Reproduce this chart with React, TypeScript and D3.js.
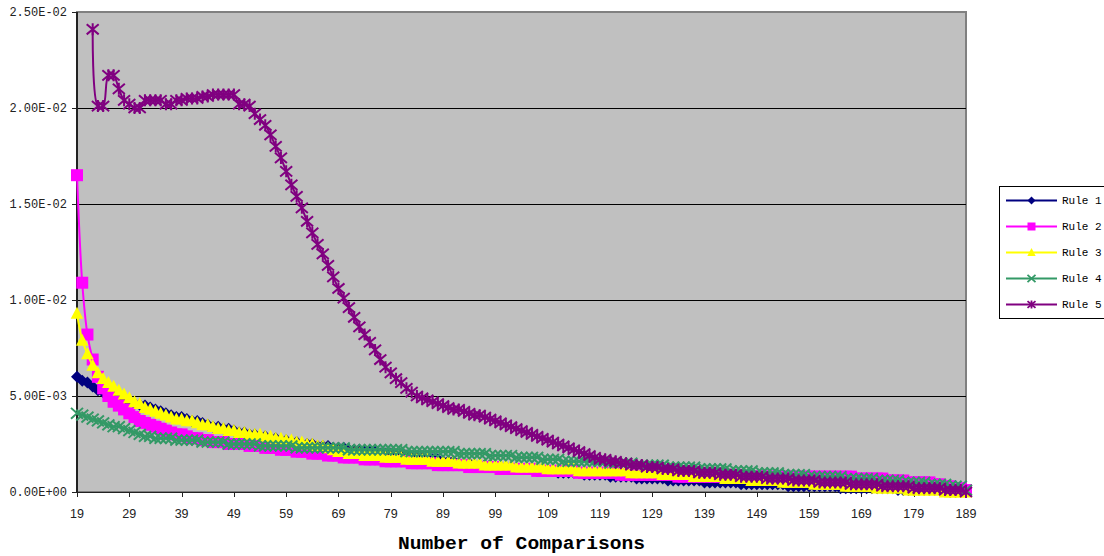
import * as d3 from "d3";
import React from "react";

// x categories (number of comparisons)
const categories = d3.range(19, 190);
const xTickLabels = [19, 29, 39, 49, 59, 69, 79, 89, 99, 109, 119, 129, 139, 149, 159, 169, 179, 189];
const yTicks = [0, 0.005, 0.01, 0.015, 0.02, 0.025];
const yTickLabels = ["0.00E+00", "5.00E-03", "1.00E-02", "1.50E-02", "2.00E-02", "2.50E-02"];

const rule1 = [
    0.0060, 0.0058, 0.0057, 0.0055, 0.0053, 0.0052, 0.0051, 0.0050, 0.0049, 0.0048,
    0.0047, 0.0046, 0.00455, 0.0045, 0.0044, 0.0043, 0.0042, 0.0041, 0.0040, 0.0039,
    0.0039, 0.0038, 0.0037, 0.0037, 0.0036, 0.0035, 0.0034, 0.0034, 0.0033, 0.0033,
    0.0032, 0.0031, 0.0031, 0.0030, 0.0030, 0.0029, 0.0029, 0.0028, 0.0028, 0.0027,
    0.0027, 0.0026, 0.0026, 0.0025, 0.0025, 0.0025, 0.0024, 0.0024, 0.0024, 0.0023,
    0.0023, 0.0023, 0.0022, 0.0022, 0.0022, 0.0021, 0.0021, 0.0021, 0.0020, 0.0020,
    0.0020, 0.0019, 0.0019, 0.0019, 0.0018, 0.0018, 0.0018, 0.0017, 0.0017, 0.0017,
    0.0016, 0.0016, 0.0016, 0.0015, 0.0015, 0.0015, 0.0014, 0.0014, 0.0014, 0.0014,
    0.0013, 0.0013, 0.0013, 0.0013, 0.0012, 0.0012, 0.0012, 0.0012, 0.0011, 0.0011,
    0.0011, 0.0011, 0.0010, 0.0010, 0.0010, 0.0010, 0.0010, 0.0009, 0.0009, 0.0009,
    0.0009, 0.0009, 0.0008, 0.0008, 0.0008, 0.0008, 0.0008, 0.0007, 0.0007, 0.0007,
    0.0007, 0.0007, 0.0007, 0.0006, 0.0006, 0.0006, 0.0006, 0.0006, 0.0006, 0.0006,
    0.0005, 0.0005, 0.0005, 0.0005, 0.0005, 0.0005, 0.0005, 0.0004, 0.0004, 0.0004,
    0.0004, 0.0004, 0.0004, 0.0004, 0.0004, 0.0004, 0.0003, 0.0003, 0.0003, 0.0003,
    0.0003, 0.0003, 0.0003, 0.0003, 0.0003, 0.0003, 0.0002, 0.0002, 0.0002, 0.0002,
    0.0002, 0.0002, 0.0002, 0.0002, 0.0002, 0.0002, 0.0002, 0.0001, 0.0001, 0.0001,
    0.0001, 0.0001, 0.0001, 0.0001, 0.0001, 0.0001, 0.0001, 0.0000, 0.0000, 0.0000,
    0.0000,
];

const rule2 = [
    0.0165, 0.0109, 0.0082, 0.0069, 0.0060, 0.0054, 0.0050, 0.0047, 0.0045, 0.0043,
    0.0041, 0.0039, 0.0037, 0.0036, 0.0035, 0.0034, 0.0033, 0.0032, 0.0031, 0.0030,
    0.0030, 0.0029, 0.0028, 0.0028, 0.0027, 0.0027, 0.0026, 0.0026, 0.0026, 0.0025,
    0.0025, 0.0025, 0.0025, 0.0024, 0.0024, 0.0024, 0.0023, 0.0023, 0.0023, 0.0022,
    0.0022, 0.0022, 0.0021, 0.0021, 0.0021, 0.0020, 0.0020, 0.0020, 0.0019, 0.0019,
    0.0019, 0.0018, 0.0018, 0.0018, 0.0018, 0.0017, 0.0017, 0.0017, 0.0017, 0.0016,
    0.0016, 0.0016, 0.0016, 0.0016, 0.0015, 0.0015, 0.0015, 0.0015, 0.0015, 0.0014,
    0.0014, 0.0014, 0.0014, 0.0014, 0.0014, 0.0013, 0.0013, 0.0013, 0.0013, 0.0013,
    0.0013, 0.0012, 0.0012, 0.0012, 0.0012, 0.0012, 0.0012, 0.0012, 0.0011, 0.0011,
    0.0011, 0.0011, 0.0011, 0.0011, 0.0011, 0.0011, 0.0010, 0.0010, 0.0010, 0.0010,
    0.0010, 0.0010, 0.0010, 0.0010, 0.0009, 0.0009, 0.0009, 0.0009, 0.0009, 0.0009,
    0.0009, 0.0009, 0.0009, 0.0009, 0.0009, 0.0008, 0.0008, 0.0008, 0.0008, 0.0008,
    0.0008, 0.0008, 0.0008, 0.0008, 0.0008, 0.0008, 0.0008, 0.0008, 0.0008, 0.0008,
    0.0008, 0.0008, 0.0008, 0.0008, 0.0008, 0.0008, 0.0008, 0.0008, 0.0008, 0.0008,
    0.0008, 0.0008, 0.0008, 0.0008, 0.0008, 0.0008, 0.0008, 0.0008, 0.0008, 0.0007,
    0.0007, 0.0007, 0.0007, 0.0007, 0.0007, 0.0006, 0.0006, 0.0006, 0.0006, 0.0005,
    0.0005, 0.0005, 0.0005, 0.0005, 0.0004, 0.0004, 0.0003, 0.0003, 0.0002, 0.0002,
    0.0001,
];

const rule3 = [
    0.0093, 0.0079, 0.0072, 0.0066, 0.0062, 0.0059, 0.0057, 0.0055, 0.0053, 0.0051,
    0.0049, 0.0047, 0.0046, 0.0044, 0.0043, 0.0042, 0.0041, 0.0040, 0.0039, 0.0038,
    0.0038, 0.0037, 0.0037, 0.0036, 0.0035, 0.0035, 0.0034, 0.0033, 0.0033, 0.0032,
    0.0032, 0.0031, 0.0031, 0.0030, 0.0030, 0.0030, 0.0029, 0.0029, 0.0028, 0.0028,
    0.0027, 0.0027, 0.0026, 0.0026, 0.0025, 0.0025, 0.0024, 0.0024, 0.0023, 0.0022,
    0.0021, 0.0021, 0.0020, 0.0020, 0.0020, 0.0019, 0.0019, 0.0019, 0.0019, 0.0018,
    0.0018, 0.0018, 0.0018, 0.0017, 0.0017, 0.0017, 0.0017, 0.0017, 0.0016, 0.0016,
    0.0016, 0.0016, 0.0016, 0.0015, 0.0015, 0.0015, 0.0015, 0.0015, 0.0014, 0.0014,
    0.0014, 0.0014, 0.0014, 0.0014, 0.0013, 0.0013, 0.0013, 0.0013, 0.0013, 0.0013,
    0.0012, 0.0012, 0.0012, 0.0012, 0.0012, 0.0012, 0.0011, 0.0011, 0.0011, 0.0011,
    0.0011, 0.0011, 0.0011, 0.0011, 0.0011, 0.0011, 0.0010, 0.0010, 0.0010, 0.0010,
    0.0010, 0.0010, 0.0009, 0.0009, 0.0009, 0.0009, 0.0009, 0.0009, 0.0008, 0.0008,
    0.0008, 0.0008, 0.0008, 0.0008, 0.0007, 0.0007, 0.0007, 0.0007, 0.0007, 0.0006,
    0.0006, 0.0006, 0.0006, 0.0006, 0.0006, 0.0005, 0.0005, 0.0005, 0.0005, 0.0005,
    0.0005, 0.0004, 0.0004, 0.0004, 0.0004, 0.0004, 0.0004, 0.0003, 0.0003, 0.0003,
    0.0003, 0.0003, 0.0003, 0.0002, 0.0002, 0.0002, 0.0002, 0.0002, 0.0002, 0.0001,
    0.0001, 0.0001, 0.0001, 0.0001, 0.0001, 0.0001, 0.0000, 0.0000, 0.0000, 0.0000,
    0.0000,
];

const rule4 = [
    0.0041, 0.0040, 0.0039, 0.0038, 0.0037, 0.0036, 0.0035, 0.0034, 0.0034, 0.0033,
    0.0032, 0.0031, 0.0030, 0.0029, 0.0029, 0.0028, 0.0028, 0.0028, 0.0028, 0.0027,
    0.0027, 0.0027, 0.0027, 0.0027, 0.0026, 0.0026, 0.0026, 0.0026, 0.0026, 0.0025,
    0.0025, 0.0025, 0.0025, 0.0025, 0.0025, 0.0024, 0.0024, 0.0024, 0.0024, 0.0024,
    0.0024, 0.0024, 0.0023, 0.0023, 0.0023, 0.0023, 0.0023, 0.0023, 0.0023, 0.0023,
    0.0023, 0.0023, 0.0022, 0.0022, 0.0022, 0.0022, 0.0022, 0.0022, 0.0022, 0.0022,
    0.0022, 0.0022, 0.0022, 0.0021, 0.0021, 0.0021, 0.0021, 0.0021, 0.0021, 0.0021,
    0.0021, 0.0021, 0.0021, 0.0020, 0.0020, 0.0020, 0.0020, 0.0020, 0.0020, 0.0019,
    0.0019, 0.0019, 0.0019, 0.0019, 0.0018, 0.0018, 0.0018, 0.0018, 0.0018, 0.0017,
    0.0017, 0.0017, 0.0017, 0.0016, 0.0016, 0.0016, 0.0016, 0.0016, 0.0016, 0.0016,
    0.0016, 0.0016, 0.0015, 0.0015, 0.0015, 0.0015, 0.0015, 0.0014, 0.0014, 0.0014,
    0.0014, 0.0014, 0.0014, 0.0013, 0.0013, 0.0013, 0.0013, 0.0013, 0.0013, 0.0012,
    0.0012, 0.0012, 0.0012, 0.0012, 0.0012, 0.0011, 0.0011, 0.0011, 0.0011, 0.0011,
    0.0010, 0.0010, 0.0010, 0.0010, 0.0010, 0.0009, 0.0009, 0.0009, 0.0009, 0.0009,
    0.0008, 0.0008, 0.0008, 0.0008, 0.0008, 0.0008, 0.0008, 0.0007, 0.0007, 0.0007,
    0.0007, 0.0007, 0.0007, 0.0006, 0.0006, 0.0006, 0.0006, 0.0006, 0.0005, 0.0005,
    0.0005, 0.0005, 0.0005, 0.0004, 0.0004, 0.0004, 0.0004, 0.0003, 0.0003, 0.0003,
    0.0001,
];

const rule5 = [
    null, null, null, 0.0241, 0.0201, 0.0201, 0.0217, 0.0217, 0.0210, 0.0204,
    0.0202, 0.0200, 0.0200, 0.0204, 0.0204, 0.0204, 0.0204, 0.0202, 0.0202, 0.0204,
    0.0204, 0.0205, 0.0205, 0.0205, 0.0206, 0.0206, 0.0207, 0.0207, 0.0207, 0.0207,
    0.0207, 0.0202, 0.0202, 0.0201, 0.0197, 0.0194, 0.0191, 0.0186, 0.0180, 0.0174,
    0.0167, 0.0160, 0.0154, 0.0148, 0.0141, 0.0135, 0.0129, 0.0124, 0.0118, 0.0112,
    0.0106, 0.0101, 0.0096, 0.0091, 0.0086, 0.0082, 0.0078, 0.0074, 0.0069, 0.0065,
    0.0062, 0.0059, 0.0057, 0.0054, 0.0052, 0.0050, 0.0049, 0.0048, 0.0047, 0.0046,
    0.0045, 0.0044, 0.0043, 0.0043, 0.0042, 0.0041, 0.0040, 0.0040, 0.0039, 0.0038,
    0.0037, 0.0036, 0.0035, 0.0034, 0.0033, 0.0032, 0.0031, 0.0030, 0.0029, 0.0028,
    0.0027, 0.0026, 0.0025, 0.0024, 0.0023, 0.0022, 0.0021, 0.0020, 0.0019, 0.0018,
    0.0017, 0.0017, 0.0016, 0.0016, 0.0015, 0.0015, 0.0014, 0.0014, 0.0014, 0.0013,
    0.0013, 0.0013, 0.0012, 0.0012, 0.0012, 0.0011, 0.0011, 0.0011, 0.0011, 0.0010,
    0.0010, 0.0010, 0.0010, 0.0009, 0.0009, 0.0009, 0.0009, 0.0008, 0.0008, 0.0008,
    0.0008, 0.0008, 0.0007, 0.0007, 0.0007, 0.0007, 0.0007, 0.0006, 0.0006, 0.0006,
    0.0006, 0.0006, 0.0005, 0.0005, 0.0005, 0.0005, 0.0005, 0.0005, 0.0004, 0.0004,
    0.0004, 0.0004, 0.0004, 0.0004, 0.0003, 0.0003, 0.0003, 0.0003, 0.0003, 0.0003,
    0.0002, 0.0002, 0.0002, 0.0002, 0.0002, 0.0002, 0.0001, 0.0001, 0.0001, 0.0001,
    0.0000,
];

const seriesNames = ["Rule 1", "Rule 2", "Rule 3", "Rule 4", "Rule 5"];
const seriesValues = [rule1, rule2, rule3, rule4, rule5];
const seriesColors = ["#000080", "#FF00FF", "#FFFF00", "#339966", "#800080"];
const seriesMarkers = ["diamond", "square", "triangle", "x", "star"];

const width = 1104;
const height = 556;
const plot = { left: 77, right: 966, top: 12, bottom: 492 };

function Marker({ kind, color, cx, cy, s, sw = 2 }) {
    if (kind === "diamond") {
        return <path d={`M${cx},${cy - s} L${cx + s},${cy} L${cx},${cy + s} L${cx - s},${cy} Z`} fill={color} />;
    }
    if (kind === "square") {
        return <rect x={cx - s} y={cy - s} width={2 * s} height={2 * s} fill={color} />;
    }
    if (kind === "triangle") {
        return <path d={`M${cx},${cy - s * 1.1} L${cx + s * 1.05},${cy + s * 0.9} L${cx - s * 1.05},${cy + s * 0.9} Z`} fill={color} />;
    }
    if (kind === "x") {
        return (
            <path
                d={`M${cx - s},${cy - s * 0.9} L${cx + s},${cy + s * 0.9} M${cx - s},${cy + s * 0.9} L${cx + s},${cy - s * 0.9}`}
                stroke={color}
                strokeWidth={sw}
                fill="none"
            />
        );
    }
    // star: x with a vertical bar
    return (
        <path
            d={`M${cx - s},${cy - s * 0.85} L${cx + s},${cy + s * 0.85} M${cx - s},${cy + s * 0.85} L${cx + s},${cy - s * 0.85} M${cx},${cy - s} L${cx},${cy + s}`}
            stroke={color}
            strokeWidth={sw}
            fill="none"
        />
    );
}

export default function App() {
    const x = d3.scaleLinear().domain([19, 189]).range([plot.left, plot.right]);
    const y = d3.scaleLinear().domain([0, 0.025]).range([plot.bottom, plot.top]);
    const crisp = (v) => Math.round(v) + 0.5;

    const line = d3
        .line()
        .defined((d) => d[1] != null)
        .x((d) => x(d[0]))
        .y((d) => y(d[1]))
        .curve(d3.curveCatmullRom.alpha(0.5));

    const monoFont = "'Liberation Mono', 'DejaVu Sans Mono', monospace";
    const sansFont = "'Liberation Sans', Arial, sans-serif";

    return (
        <svg width={width} height={height} style={{ position: "absolute", left: 0, top: 0, background: "#fff" }}>
            {/* plot area */}
            <rect
                x={plot.left}
                y={plot.top}
                width={plot.right - plot.left}
                height={plot.bottom - plot.top}
                fill="#C0C0C0"
                stroke="#808080"
                strokeWidth={2}
            />
            {yTicks.slice(1, -1).map((t) => (
                <line key={t} x1={plot.left} x2={plot.right} y1={crisp(y(t))} y2={crisp(y(t))} stroke="#000" strokeWidth={1} />
            ))}

            {/* axes */}
            <line x1={plot.left} x2={plot.left} y1={plot.top} y2={plot.bottom} stroke="#222" strokeWidth={2} />
            <line x1={plot.left} x2={plot.right} y1={crisp(plot.bottom)} y2={crisp(plot.bottom)} stroke="#222" strokeWidth={1} />
            {yTicks.map((t, i) => (
                <g key={t}>
                    <line x1={plot.left - 5} x2={plot.left} y1={crisp(y(t))} y2={crisp(y(t))} stroke="#222" />
                    <text
                        x={67}
                        y={y(t)}
                        dy="0.35em"
                        textAnchor="end"
                        fontFamily={monoFont}
                        fontSize={12}
                        fill="#222"
                    >
                        {yTickLabels[i]}
                    </text>
                </g>
            ))}
            {xTickLabels.map((t) => (
                <g key={t}>
                    <line x1={crisp(x(t))} x2={crisp(x(t))} y1={plot.bottom} y2={plot.bottom + 5} stroke="#222" />
                    <text x={x(t)} y={518} textAnchor="middle" fontFamily={sansFont} fontSize={12.5} fill="#222">
                        {t}
                    </text>
                </g>
            ))}
            <text
                x={(plot.left + plot.right) / 2}
                y={549}
                textAnchor="middle"
                fontFamily={monoFont}
                fontWeight="bold"
                fontSize={18}
                textLength={247}
                lengthAdjust="spacingAndGlyphs"
                fill="#000"
            >
                Number of Comparisons
            </text>

            {/* series */}
            {seriesValues.map((vals, si) => {
                const pts = categories.map((c, i) => [c, vals[i]]);
                return (
                    <g key={seriesNames[si]}>
                        <path d={line(pts)} fill="none" stroke={seriesColors[si]} strokeWidth={2} />
                        {pts
                            .filter((p) => p[1] != null)
                            .map((p) => (
                                <Marker
                                    key={p[0]}
                                    kind={seriesMarkers[si]}
                                    color={seriesColors[si]}
                                    cx={x(p[0])}
                                    cy={y(p[1])}
                                    s={6}
                                />
                            ))}
                    </g>
                );
            })}

            {/* legend */}
            <rect x={999.5} y={186.5} width={110} height={132} fill="#fff" stroke="#000" strokeWidth={1} />
            {seriesNames.map((name, i) => {
                const ly = 200.5 + i * 26;
                return (
                    <g key={name}>
                        <line x1={1006} x2={1057} y1={ly} y2={ly} stroke={seriesColors[i]} strokeWidth={2} />
                        <Marker kind={seriesMarkers[i]} color={seriesColors[i]} cx={1031.5} cy={ly} s={4} sw={1.8} />
                        <text x={1062} y={ly} dy="0.35em" fontFamily={monoFont} fontSize={11} fill="#000">
                            {name}
                        </text>
                    </g>
                );
            })}
        </svg>
    );
}
